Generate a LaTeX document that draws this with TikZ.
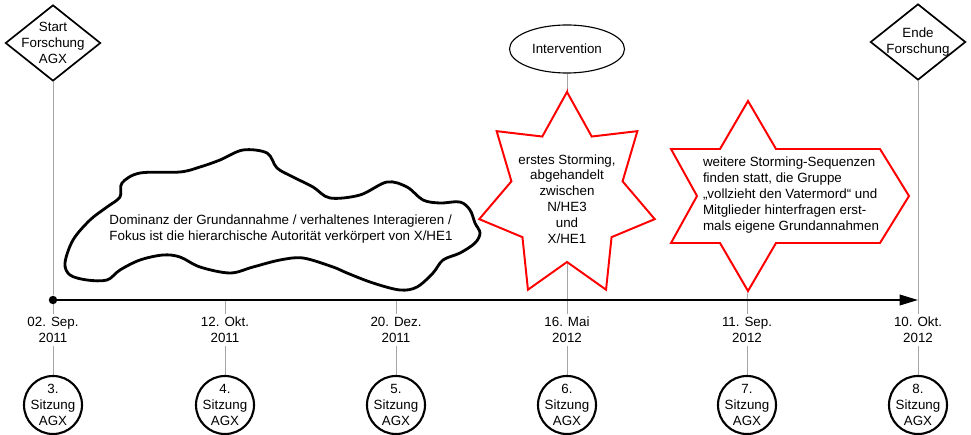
\documentclass[tikz,border=0pt]{standalone}
\usepackage{fontspec}
\setmainfont{Liberation Sans}
\usetikzlibrary{shapes.geometric,arrows.meta,backgrounds}

\begin{document}
\begin{tikzpicture}[x=0.025cm,y=0.025cm,
   font=\fontsize{9.5}{11.3}\selectfont,
   guide/.style={draw=gray!70,line width=0.6pt},
   rhomb/.style={diamond,draw,line width=1.2pt,fill=white,minimum width=2.38cm,
     minimum height=1.9cm,inner sep=0pt},
   sess/.style={circle,draw,line width=1.5pt,fill=white,minimum size=1.45cm,inner sep=0pt},
   datum/.style={align=center,inner sep=2pt},
   redstar/.style={draw=red,line width=1.4pt,fill=white,line join=miter},
   cloudline/.style={draw,line width=2pt,fill=white,line join=round}]

 \useasboundingbox (0,0) rectangle (971,434);

 %timeline with start dot
 \node[circle,fill,inner sep=0pt,minimum size=6pt] (dot) at (53,134) {};
 \coordinate (axend) at (918,134);
 \draw[line width=1.2pt,-{Triangle[length=13pt,width=7.5pt]}] (dot.center) -- (axend);

 %dates and sessions below the axis
 \foreach \x/\d/\yr/\n in {53/02. Sep./2011/3, 225/12. Okt./2011/4, 396/20. Dez./2011/5,
                           567/16. Mai/2012/6, 747/11. Sep./2012/7, 918/10. Okt./2012/8}{
   \coordinate (t\n) at (\x,134);
   \node[datum] (d\n) at (\x,104) {\d\\\yr};
   \node[sess,label={[align=center]center:{\n.\\Sitzung\\AGX}}] (s\n) at (\x,29) {};
 }

 %top markers
 \node[rhomb,label={[align=center]center:{Start\\Forschung\\AGX}}] (start) at (53,391) {};
 \node[rhomb,label={[align=center]center:{Ende\\Forschung}}] (ende) at (918,392) {};
 \node[ellipse,draw,line width=0.8pt,minimum width=2.875cm,minimum height=1.2cm]
   (interv) at (567,385) {Intervention};

 %cloud
 \draw[cloudline] plot[smooth cycle,tension=0.55] coordinates {
   (65,171) (73,194) (90,214) (107,227) (120,237) (122,251) (140,261) (180,262)
   (200,267) (220,274) (243,284) (267,281) (277,266) (293,257) (313,247) (330,236)
   (360,239) (387,252) (407,247) (423,234) (440,231) (460,232) (470,224) (475,211)
   (480,201) (475,191) (460,181) (443,174) (433,161) (417,147) (400,144) (373,151)
   (347,161) (333,167) (303,176) (280,174) (253,167) (230,161) (200,167) (180,177)
   (163,179) (140,174) (120,164) (107,154) (87,154) (70,159)};
 \node[align=left] (cloudtxt) at (281,205)
   {Dominanz der Grundannahme / verhaltenes Interagieren /\\
    Fokus ist die hierarchische Autorität verkörpert von X/HE1};

 %first storming star
 \begin{scope}[shift={(567,238)}]
  \draw[redstar] (90:90 and 104) \foreach \k in {0,...,6}{
     -- ({115.714+\k*51.4286}:57 and 66) -- ({141.4286+\k*51.4286}:90 and 104)} -- cycle;
  \coordinate (st1top) at (90:90 and 104);
  \coordinate (st1bot) at (270:57 and 66);
 \end{scope}
 \node[align=center] (st1txt) at (567,235)
   {erstes Storming,\\abgehandelt\\zwischen\\N/HE3\\und\\X/HE1};

 %further storming star
 \draw[redstar] (748,333) -- (776,285) -- (880,285) -- (909,238) -- (880,191) -- (776,191)
   -- (748,143) -- (720,191) -- (671,191) -- (697,238) -- (671,285) -- (720,285) -- cycle;
 \coordinate (st2bot) at (748,143);
 \node[align=left] (st2txt) at (791,239)
   {weitere Storming-Sequenzen\\finden statt, die Gruppe\\„vollzieht den Vatermord“ und\\
    Mitglieder hinterfragen erst-\\mals eigene Grundannahmen};

 \begin{scope}[on background layer]
  \foreach \n in {3,...,8}
    \draw[guide] (t\n) -- (d\n.north) (d\n.south) -- (s\n.north);
  \draw[guide] (start.south) -- (dot);
  \draw[guide] (interv.south) -- (st1top);
  \draw[guide] (st1bot) -- (t6);
  \draw[guide] (st2bot) -- (t7);
  \draw[guide] (ende.south) -- (t8);
 \end{scope}

\end{tikzpicture}
\end{document}
